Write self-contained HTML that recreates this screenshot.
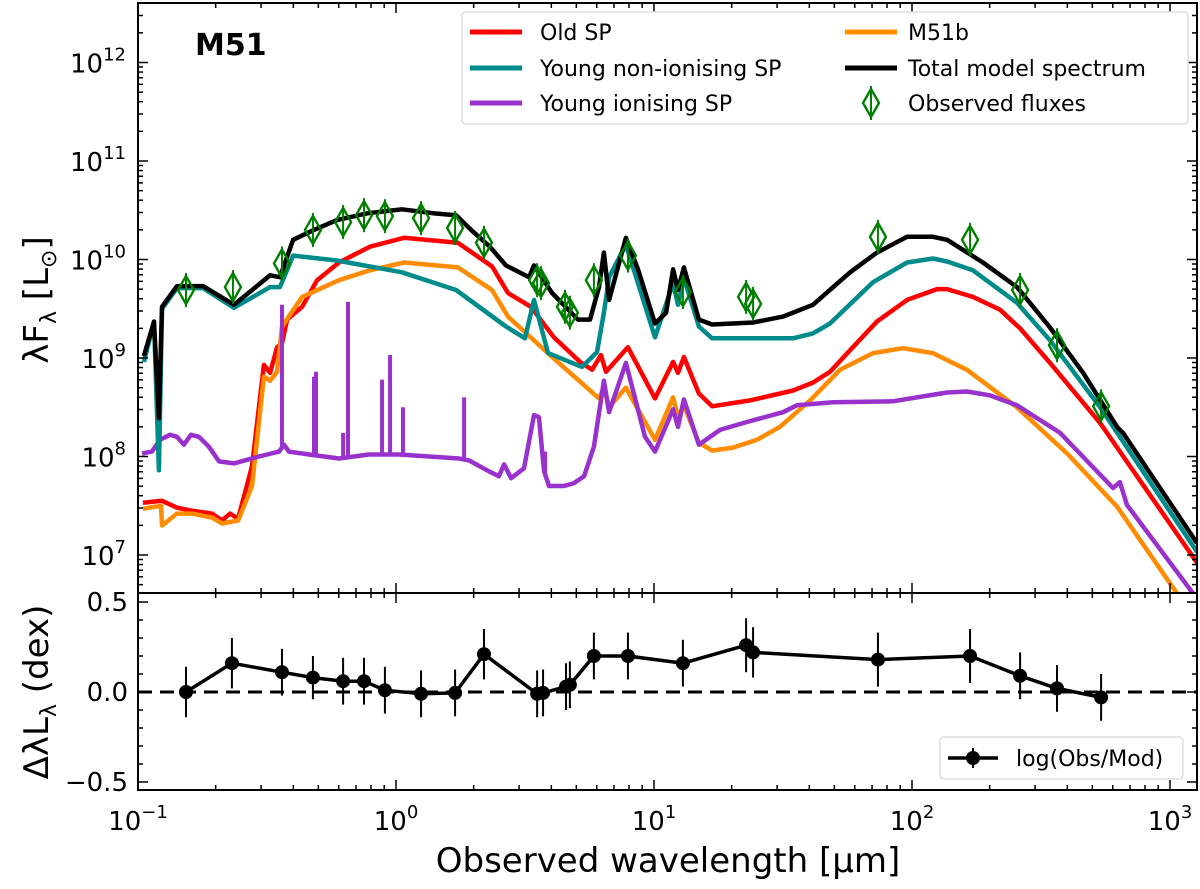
<!DOCTYPE html>
<html><head><meta charset="utf-8"><style>
html,body{margin:0;padding:0;background:#fff;}
svg{display:block;font-family:"DejaVu Sans","Liberation Sans",sans-serif;}
</style></head><body>
<svg id="c" width="1200" height="889" viewBox="0 0 1200 889" xmlns="http://www.w3.org/2000/svg">
<defs>
<clipPath id="cm"><rect x="138" y="3" width="1059" height="590"/></clipPath>
<clipPath id="cr"><rect x="138" y="593" width="1059" height="197"/></clipPath>
</defs>
<g id="main"></g>
<g id="res"></g>
<text x="195" y="55" font-size="30" font-weight="bold">M51</text>
<text x="668" y="872" font-size="34" text-anchor="middle">Observed wavelength [μm]</text>
<text transform="translate(48,300) rotate(-90)" font-size="34" text-anchor="middle">λF<tspan font-size="22" dy="8">λ</tspan><tspan dy="-8"> [L</tspan><tspan font-size="22" dy="8">⊙</tspan><tspan dy="-8">]</tspan></text>
<text transform="translate(48,692) rotate(-90)" font-size="34" text-anchor="middle">ΔλL<tspan font-size="22" dy="8">λ</tspan><tspan dy="-8"> (dex)</tspan></text>
<g id="legend"></g>
</svg>
<script>
// ---- data (log10 wavelength [um], log10 flux [Lsun]) ----
const totLam=[-0.977,-0.938,-0.919,-0.907,-0.849,-0.748,-0.628,-0.488,-0.450,-0.399,-0.318,-0.229,-0.109,0.023,0.143,0.233,0.291,0.364,0.426,0.516,0.535,0.605,0.705,0.752,0.787,0.806,0.826,0.891,0.938,1.004,1.047,1.074,1.093,1.116,1.174,1.225,1.384,1.5,1.616,1.76,1.864,1.981,2.081,2.136,2.275,2.407,2.535,2.663,2.795,2.818,3.105];
const totF=[9.02,9.37,8.39,9.52,9.73,9.73,9.54,9.84,9.82,10.2,10.3,10.4,10.47,10.51,10.47,10.45,10.3,10.13,9.94,9.82,9.94,9.66,9.39,9.39,9.72,10.07,9.59,10.22,9.9,9.35,9.46,9.9,9.69,9.92,9.39,9.34,9.36,9.42,9.54,9.87,10.07,10.23,10.23,10.2,9.97,9.72,9.31,8.85,8.30,8.24,7.12];
const youngLam=[-0.977,-0.938,-0.919,-0.907,-0.849,-0.748,-0.628,-0.488,-0.450,-0.399,-0.229,0.023,0.233,0.426,0.500,0.535,0.589,0.721,0.779,0.806,0.826,0.891,1.004,1.074,1.093,1.116,1.174,1.225,1.539,1.616,1.682,1.849,1.981,2.081,2.136,2.236,2.407,2.535,2.729,3.105];
const youngF=[8.96,9.37,7.86,9.5,9.71,9.71,9.51,9.72,9.72,10.04,9.99,9.87,9.69,9.32,9.2,9.59,9.05,8.91,9.06,9.46,9.82,10.15,9.21,9.76,9.54,9.81,9.32,9.2,9.2,9.25,9.35,9.77,9.97,10.01,9.98,9.89,9.56,9.18,8.50,7.03];
const oldLam=[-0.981,-0.907,-0.849,-0.791,-0.713,-0.674,-0.643,-0.612,-0.558,-0.512,-0.488,-0.461,-0.442,-0.422,-0.364,-0.306,-0.221,-0.101,0.031,0.240,0.372,0.434,0.523,0.612,0.713,0.760,0.794,0.814,0.899,1.004,1.074,1.093,1.116,1.174,1.225,1.372,1.539,1.616,1.682,1.771,1.864,1.981,2.097,2.136,2.236,2.341,2.419,2.535,2.729,3.105];
const oldF=[7.53,7.55,7.48,7.45,7.42,7.35,7.42,7.37,7.9,8.93,8.85,9.11,9.15,9.39,9.52,9.79,9.97,10.13,10.22,10.17,9.93,9.66,9.52,9.21,8.96,8.88,9.03,8.86,9.11,8.59,8.96,8.85,9.01,8.64,8.51,8.57,8.67,8.75,8.86,9.11,9.37,9.59,9.7,9.7,9.62,9.49,9.3,8.95,8.34,6.92];
const m51bLam=[-0.981,-0.911,-0.907,-0.849,-0.791,-0.713,-0.674,-0.612,-0.558,-0.512,-0.488,-0.461,-0.442,-0.364,-0.221,-0.101,0.031,0.240,0.372,0.434,0.605,0.705,0.787,0.806,0.826,0.891,1.004,1.074,1.093,1.116,1.174,1.225,1.306,1.399,1.488,1.605,1.721,1.849,1.965,2.081,2.213,2.407,2.601,2.795,3.027];
const m51bF=[7.47,7.5,7.3,7.42,7.42,7.38,7.32,7.35,7.7,8.81,8.77,8.86,9.32,9.62,9.79,9.89,9.97,9.92,9.69,9.42,9.01,8.78,8.59,8.7,8.5,8.7,8.17,8.6,8.4,8.52,8.14,8.06,8.09,8.17,8.3,8.57,8.88,9.05,9.1,9.05,8.88,8.5,8.03,7.49,6.61];
const ionLam=[-0.984,-0.946,-0.915,-0.876,-0.849,-0.822,-0.795,-0.764,-0.725,-0.686,-0.628,-0.531,-0.453,-0.434,-0.415,-0.337,-0.221,-0.105,0.012,0.244,0.283,0.360,0.399,0.419,0.446,0.496,0.535,0.554,0.574,0.593,0.651,0.690,0.729,0.767,0.806,0.826,0.891,0.965,1.004,1.074,1.093,1.116,1.174,1.256,1.36,1.5,1.554,1.694,1.926,2.019,2.136,2.213,2.302,2.407,2.574,2.779,2.806,2.833,3.089];
const ionF=[8.03,8.05,8.17,8.22,8.2,8.12,8.22,8.2,8.1,7.95,7.93,8.0,8.05,8.12,8.05,8.02,7.98,8.02,8.02,7.98,7.96,7.85,7.8,7.92,7.78,7.88,8.42,8.4,7.85,7.7,7.7,7.73,7.8,8.1,8.77,8.45,8.95,8.2,8.05,8.48,8.3,8.58,8.12,8.27,8.35,8.45,8.52,8.55,8.56,8.6,8.65,8.66,8.62,8.52,8.24,7.68,7.74,7.51,6.61];
const lineLam=[-0.442,-0.318,-0.310,-0.205,-0.186,-0.054,-0.023,0.027,0.264,0.578];
const lineF=[9.54,8.81,8.86,8.24,9.57,8.78,9.03,8.5,8.6,8.05];
const obsLam=[-0.814,-0.632,-0.442,-0.322,-0.205,-0.124,-0.043,0.097,0.229,0.341,0.547,0.562,0.655,0.674,0.767,0.899,1.112,1.357,1.384,1.868,2.225,2.419,2.562,2.733];
const obsF=[9.69,9.72,9.96,10.30,10.38,10.45,10.44,10.42,10.32,10.17,9.79,9.76,9.52,9.46,9.79,10.04,9.67,9.62,9.55,10.23,10.2,9.69,9.13,8.51];
const resLam=[-0.814,-0.636,-0.442,-0.322,-0.205,-0.124,-0.043,0.097,0.229,0.341,0.547,0.57,0.659,0.674,0.767,0.899,1.112,1.357,1.384,1.868,2.225,2.419,2.562,2.733];
const resVal=[0.0,0.16,0.11,0.08,0.06,0.06,0.01,-0.01,-0.005,0.21,-0.01,-0.005,0.03,0.04,0.2,0.2,0.16,0.26,0.22,0.18,0.2,0.09,0.02,-0.03];
const resErr=[0.14,0.14,0.13,0.12,0.13,0.13,0.13,0.13,0.13,0.14,0.13,0.13,0.13,0.13,0.13,0.13,0.13,0.15,0.14,0.15,0.15,0.13,0.13,0.13];
const xTickExp=[-1,0,1,2,3];
const yTickExp=[7,8,9,10,11,12];
const rTicks=[-0.5,0.0,0.5];
const rTickLabels=["\u22120.5","0.0","0.5"];

const NS="http://www.w3.org/2000/svg";
const L=138,R=1197,MT=3,MB=593,RB=790;
const X=l=>L+(l+1)*258;
const Y=f=>555-(f-7)*98.5;
const YR=v=>692-v*180;
function mk(tag,attrs,parent){const e=document.createElementNS(NS,tag);for(const k in attrs)e.setAttribute(k,attrs[k]);parent.appendChild(e);return e;}
const main=document.getElementById('main'),res=document.getElementById('res'),leg=document.getElementById('legend');
const gm=mk('g',{'clip-path':'url(#cm)'},main);
function series(lam,f,color,name){
  const d=lam.map((l,i)=>(i?'L':'M')+X(l).toFixed(1)+' '+Y(f[i]).toFixed(1)).join(' ');
  const p=mk('path',{d:d,fill:'none',stroke:color,'stroke-width':4.5,'stroke-linejoin':'round'},gm);
  
  
}
function interp(lam,f,l){for(let i=1;i<lam.length;i++){if(l<=lam[i]){const t=(l-lam[i-1])/(lam[i]-lam[i-1]);return f[i-1]+t*(f[i]-f[i-1]);}}return f[f.length-1];}
series(oldLam,oldF,'#ff0000','old-sp-line');
series(m51bLam,m51bF,'#ff8c00','m51b-line');
series(ionLam,ionF,'#9932cc','young-ionising-sp-line');
lineLam.forEach((l,i)=>{
  const s=mk('line',{x1:X(l),x2:X(l),y1:Y(interp(ionLam,ionF,l)),y2:Y(lineF[i]),stroke:'#9932cc','stroke-width':4},gm);
  
  
});
series(youngLam,youngF,'#008b8b','young-non-ionising-sp-line');
series(totLam,totF,'#000000','total-model-line');
function diamond(cx,cy,parent){
  const g=mk('g',{},parent);
  mk('line',{x1:cx,x2:cx,y1:cy-17,y2:cy+17,stroke:'#007f00','stroke-width':2},g);
  mk('path',{d:`M${cx} ${cy-14} L${cx+8} ${cy} L${cx} ${cy+14} L${cx-8} ${cy} Z`,fill:'none',stroke:'#007f00','stroke-width':2.4},g);
  return g;
}
obsLam.forEach((l,i)=>{
  const g=diamond(X(l),Y(obsF[i]),gm);
  
  
});
// residuals
const gr=mk('g',{'clip-path':'url(#cr)'},res);
mk('line',{x1:L,x2:R,y1:YR(0),y2:YR(0),stroke:'#000','stroke-width':3,'stroke-dasharray':'14 8'},gr);
resLam.forEach((l,i)=>{
  const e=mk('line',{x1:X(l),x2:X(l),y1:YR(resVal[i]+resErr[i]),y2:YR(resVal[i]-resErr[i]),stroke:'#000','stroke-width':2},gr);
  
  
});
const rp=mk('path',{d:resLam.map((l,i)=>(i?'L':'M')+X(l).toFixed(1)+' '+YR(resVal[i]).toFixed(1)).join(' '),fill:'none',stroke:'#000','stroke-width':3.5},gr);


resLam.forEach((l,i)=>{
  const c=mk('circle',{cx:X(l),cy:YR(resVal[i]),r:7,fill:'#000'},gr);
  
  
});
// frames
mk('rect',{x:L,y:MT,width:R-L,height:MB-MT,fill:'none',stroke:'#000','stroke-width':2},main);
mk('rect',{x:L,y:MB,width:R-L,height:RB-MB,fill:'none',stroke:'#000','stroke-width':2},res);
const lmax=(R-L)/258-1;
for(let e=-1;e<=3;e++){for(let m=1;m<10;m++){const l=e+Math.log10(m);if(l>lmax)continue;const x=X(l);const len=m===1?10:5;
  [[MT,1],[MB,-1],[MB,1],[RB,-1]].forEach(([y,s])=>mk('line',{x1:x,x2:x,y1:y,y2:y+s*len,stroke:'#000','stroke-width':1.5},s>0&&y===MT?main:res));}}
xTickExp.forEach(e=>{
  const t=mk('text',{x:X(e),y:830,'font-size':26,'text-anchor':'middle'},res);
  t.innerHTML='10<tspan font-size="18" dy="-12">'+(e<0?'\u2212'+(-e):e)+'</tspan>';
  
  
});
for(let e=6;e<=12;e++){for(let m=1;m<10;m++){const f=e+Math.log10(m);const y=Y(f);if(y<MT||y>MB)continue;const len=m===1?10:5;
  mk('line',{x1:L,x2:L+len,y1:y,y2:y,stroke:'#000','stroke-width':1.5},main);
  mk('line',{x1:R,x2:R-len,y1:y,y2:y,stroke:'#000','stroke-width':1.5},main);}}
yTickExp.forEach(e=>{
  const t=mk('text',{x:126,y:Y(e)+10,'font-size':26,'text-anchor':'end'},main);
  t.innerHTML='10<tspan font-size="18" dy="-12">'+e+'</tspan>';
  
  
});
for(let v=-0.5;v<=0.51;v+=0.1){const y=YR(v);const major=Math.abs(Math.round(v*10)%5)===0;const len=major?10:5;
  mk('line',{x1:L,x2:L+len,y1:y,y2:y,stroke:'#000','stroke-width':1.5},res);
  mk('line',{x1:R,x2:R-len,y1:y,y2:y,stroke:'#000','stroke-width':1.5},res);}
rTicks.forEach((v,i)=>{
  const t=mk('text',{x:128,y:YR(v)+9,'font-size':26,'text-anchor':'end'},res);
  t.textContent=rTickLabels[i];
  
  
});
// legend
mk('rect',{x:462,y:12,width:726,height:112,rx:4,fill:'#fff',stroke:'#ddd','stroke-width':1.5},leg);
const legItems=[['Old SP','#ff0000',470,540,32],['Young non-ionising SP','#008b8b',470,540,68],['Young ionising SP','#9932cc',470,540,103],['M51b','#ff8c00',845,908,32],['Total model spectrum','#000000',845,908,68]];
legItems.forEach(it=>{
  const g=mk('g',{},leg);
  
  
  mk('line',{x1:it[2],x2:it[2]+52,y1:it[4],y2:it[4],stroke:it[1],'stroke-width':5},g);
  const t=mk('text',{x:it[3],y:it[4]+8,'font-size':22},g);t.textContent=it[0];
});
const og=mk('g',{},leg);


diamond(871,103,og);
const ot=mk('text',{x:908,y:111,'font-size':22},og);ot.textContent='Observed fluxes';
const rg=mk('g',{},res);


mk('rect',{x:940,y:737,width:243,height:42,rx:4,fill:'#fff',stroke:'#ddd','stroke-width':1.5},rg);
mk('line',{x1:948,x2:998,y1:758,y2:758,stroke:'#000','stroke-width':3.5},rg);
mk('line',{x1:973,x2:973,y1:748,y2:768,stroke:'#000','stroke-width':2},rg);
mk('circle',{cx:973,cy:758,r:7,fill:'#000'},rg);
const rt=mk('text',{x:1016,y:766,'font-size':22},rg);rt.textContent='log(Obs/Mod)';
</script>
</body></html>
